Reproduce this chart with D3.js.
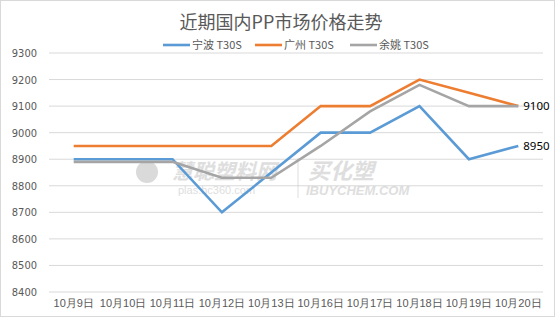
<!DOCTYPE html>
<html>
<head>
<meta charset="utf-8">
<script src="https://cdn.jsdelivr.net/npm/d3@7"></script>
<style>
body{margin:0;background:#fff;}
svg{display:block;font-family:"Noto Sans CJK SC","Noto Sans",sans-serif;}
</style>
</head>
<body>
<script>
const width=555, height=317;

const dates=['10月9日','10月10日','10月11日','10月12日','10月13日','10月16日','10月17日','10月18日','10月19日','10月20日'];
const ningbo=[8900,8900,8900,8700,8850,9000,9000,9100,8900,8950];
const guangzhou=[8950,8950,8950,8950,8950,9100,9100,9200,9150,9100];
const yuyao=[8890,8890,8890,8830,8830,8950,9080,9180,9100,9100];
const seriesNames=['宁波 T30S','广州 T30S','余姚 T30S'];
const colors=['#5b9bd5','#ed7d31','#a5a5a5'];
const yTicks=[8400,8500,8600,8700,8800,8900,9000,9100,9200,9300];

const svg=d3.select('body').append('svg')
  .attr('width',width).attr('height',height);

svg.append('rect').attr('x',0.5).attr('y',0.5)
  .attr('width',width-1).attr('height',height-1)
  .attr('fill','#fff').attr('stroke','#d9d9d9');

const x=d3.scaleBand().domain(dates).range([49,543]);
const y=d3.scaleLinear().domain([8400,9300]).range([292,53]);

// gridlines
svg.append('g').selectAll('line').data(yTicks).enter().append('line')
  .attr('x1',49).attr('x2',543)
  .attr('y1',d=>y(d)).attr('y2',d=>y(d))
  .attr('stroke','#d9d9d9').attr('stroke-width',1);

const yAxis=d3.axisLeft(y).tickValues(yTicks).tickFormat(d3.format('d')).tickSize(0).tickPadding(0);
svg.append('g').attr('transform','translate(37,0)').call(yAxis)
  .call(g=>g.select('.domain').remove())
  .selectAll('text').attr('fill','#595959').style('font-size','11px')
  .style('font-family','"Liberation Sans Narrow","DejaVu Sans Condensed",sans-serif');

const xAxis=d3.axisBottom(x).tickSize(0).tickPadding(0);
svg.append('g').attr('transform','translate(0,299)').call(xAxis)
  .call(g=>g.select('.domain').remove())
  .selectAll('text').attr('fill','#595959').style('font-size','11px')
  .attr('dy','0.71em');

// watermark
const wm=svg.append('g').attr('opacity',0.55);
wm.append('circle').attr('cx',147).attr('cy',172).attr('r',11).attr('fill','#bdbdbd');
wm.append('text').attr('x',172).attr('y',179).text('慧聪塑料网')
  .attr('fill','#c4c4c4').style('font-size','21px').style('font-weight','bold').style('font-style','italic');
wm.append('text').attr('x',178).attr('y',194).text('plas.hc360.com')
  .attr('fill','#c4c4c4').style('font-size','11px').style('font-family','"Liberation Sans",sans-serif');
wm.append('line').attr('x1',298).attr('x2',298).attr('y1',158).attr('y2',198).attr('stroke','#c4c4c4');
wm.append('text').attr('x',308).attr('y',179).text('买化塑')
  .attr('fill','#c4c4c4').style('font-size','22px').style('font-weight','bold').style('font-style','italic');
wm.append('text').attr('x',306).attr('y',195).text('IBUYCHEM.COM')
  .attr('fill','#c4c4c4').style('font-size','13px').style('font-weight','bold').style('font-style','italic')
  .style('font-family','"Liberation Sans",sans-serif');

const line=d3.line().x((d,i)=>x(dates[i])+x.bandwidth()/2).y(d=>y(d));
[ningbo,guangzhou,yuyao].forEach((s,k)=>{
  svg.append('path').datum(s).attr('d',line)
    .attr('fill','none').attr('stroke',colors[k]).attr('stroke-width',2.6)
    .attr('stroke-linejoin','miter');
});

// end labels
const lastX=x(dates[dates.length-1])+x.bandwidth()/2;
svg.append('text').attr('x',lastX+5).attr('y',y(yuyao[yuyao.length-1])).attr('dy','0.35em')
  .text(yuyao[yuyao.length-1]).attr('fill','#000').style('font-size','11.5px')
  .style('font-family','"Noto Sans",sans-serif');
svg.append('text').attr('x',lastX+5).attr('y',y(ningbo[ningbo.length-1])).attr('dy','0.35em')
  .text(ningbo[ningbo.length-1]).attr('fill','#000').style('font-size','11.5px')
  .style('font-family','"Noto Sans",sans-serif');

// title
svg.append('text').attr('x',281).attr('y',29).attr('text-anchor','middle')
  .text('近期国内PP市场价格走势').attr('fill','#595959').style('font-size','18px');

// legend
const legX=[163,255,350];
const leg=svg.append('g').selectAll('g').data(seriesNames).enter().append('g')
  .attr('transform',(d,i)=>`translate(${legX[i]},45)`);
leg.append('line').attr('x1',0).attr('x2',27).attr('stroke',(d,i)=>colors[i]).attr('stroke-width',2.6);
leg.append('text').attr('x',29).attr('dy','0.35em').text(d=>d)
  .attr('fill','#595959').style('font-size','11px');
</script>
</body>
</html>
